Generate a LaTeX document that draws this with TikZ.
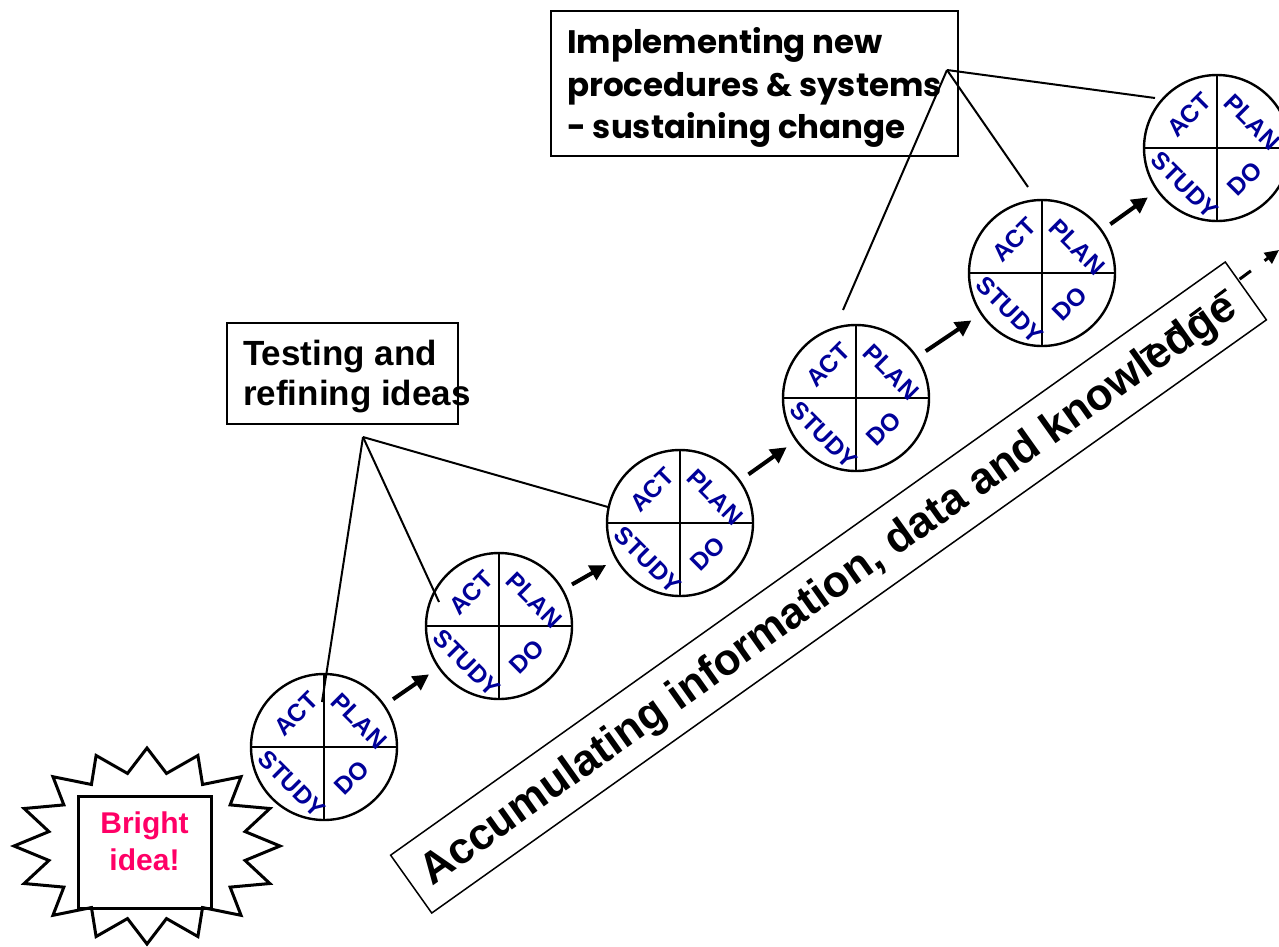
\documentclass[tikz,border=0pt]{standalone}
\usepackage{fontspec}
\setmainfont{Liberation Sans}
\newfontfamily\comicfont{Poppins}
\usetikzlibrary{calc,arrows.meta}
\definecolor{pdsablue}{RGB}{0,0,153}
\definecolor{ideapink}{RGB}{255,0,102}

\begin{document}
\begin{tikzpicture}[x=1pt,y=-1pt,
  pdsa/.style={circle,draw,line width=2.4pt,minimum size=146pt,inner sep=0pt,outer sep=0pt},
  cross/.style={line width=2.2pt},
  lab/.style={text=pdsablue,font=\fontsize{24.5}{24.5}\selectfont\bfseries,inner sep=0pt},
  flow/.style={line width=4pt,-{Triangle[length=16pt,width=16pt]},shorten <=11pt,shorten >=12pt},
  callout/.style={line width=2pt},
  framebox/.style={draw,line width=1.5pt,inner sep=0pt,outer sep=0pt},
  bigtext/.style={font=\fontsize{35}{40}\selectfont\bfseries,inner sep=0pt,anchor=base west},
  comictext/.style={font=\comicfont\fontsize{32.5}{42}\selectfont\bfseries,inner sep=0pt,anchor=base west},
  ideatext/.style={text=ideapink,font=\fontsize{30}{37}\selectfont\bfseries,inner sep=0pt,anchor=base},
  burst/.style={draw,fill=white,line width=3pt,line join=miter},
  dashflow/.style={line width=3pt,dash pattern=on 14pt off 17pt,-{Triangle[length=14pt,width=13pt]}}
]
\useasboundingbox (0,0) rectangle (1279,946);

% long band along the staircase
\node[framebox,rotate=35.4,minimum width=1024pt,minimum height=71pt] (band) at (828.5,587.5) {};
\node[font=\fontsize{44}{44}\selectfont\bfseries,inner sep=0pt,rotate=35.4,anchor=base west] (bandtext)
  at (432,887) {Accumulating information, data and knowledge};
\coordinate (kstart) at (1140,353);
\coordinate (kend) at (1279,250);
\draw[dashflow] (kstart) -- (kend);

% PDSA cycles
\foreach \i/\x/\y in {1/324/747,2/499/626,3/680/523,4/856/398,5/1042/273,6/1217/148}{
  \node[pdsa] (c\i) at (\x,\y) {};
  \draw[cross] (c\i.north) -- (c\i.south) (c\i.west) -- (c\i.east);
  \node[lab,rotate=45]  (act\i)   at ($(c\i)+(-28,-33)$) {ACT};
  \node[lab,rotate=-45] (plan\i)  at ($(c\i)+(35,-26)$)  {PLAN};
  \node[lab,rotate=-45] (study\i) at ($(c\i)+(-32,37)$)  {STUDY};
  \node[lab,rotate=45]  (do\i)    at ($(c\i)+(28,31)$)   {DO};
}

% steps between cycles
\foreach \a/\b in {1/2,2/3,3/4,4/5,5/6}{
  \draw[flow] (c\a) -- (c\b);
}

% lower callout
\node[framebox,minimum width=231pt,minimum height=101pt,anchor=north west] (testbox) at (227,323) {};
\node[bigtext] (test1) at (243,365) {Testing and};
\node[bigtext] (test2) at (243,405) {refining ideas};
\coordinate (tapex) at (363,437);
\draw[callout] (tapex) -- ($(c1)+(-2,-45)$);
\draw[callout] (tapex) -- ($(c2)+(-60,-24)$);
\draw[callout] (tapex) -- ($(c3)+(-72,-16)$);

% upper callout
\node[framebox,minimum width=407pt,minimum height=145pt,anchor=north west] (implbox) at (551,11) {};
\node[comictext] (impl1) at (567,53) {Implementing new};
\node[comictext] (impl2) at (567,96) {procedures \& systems};
\node[comictext] (impl3) at (567,138) {- sustaining change};
\coordinate (iapex) at (947,70);
\draw[callout] (iapex) -- ($(c4)+(-13,-88)$);
\draw[callout] (iapex) -- ($(c5)+(-14,-86)$);
\draw[callout] (iapex) -- ($(c6)+(-62,-50)$);

% starting burst
\draw[burst] (147,748)
  \foreach \k in {0,...,15}{
    -- ({147+100*sin(\k*22.5+11.25)},{846-74*cos(\k*22.5+11.25)})
    -- ({147+133*sin((\k+1)*22.5)},{846-98*cos((\k+1)*22.5)})
  } -- cycle;
\node[draw,line width=3pt,minimum width=133pt,minimum height=112pt,inner sep=0pt] (idea) at (144.5,852) {};
\node[ideatext] (bright) at (144.5,833) {Bright};
\node[ideatext] (ideaword) at (144.5,870) {idea!};
\end{tikzpicture}
\end{document}
